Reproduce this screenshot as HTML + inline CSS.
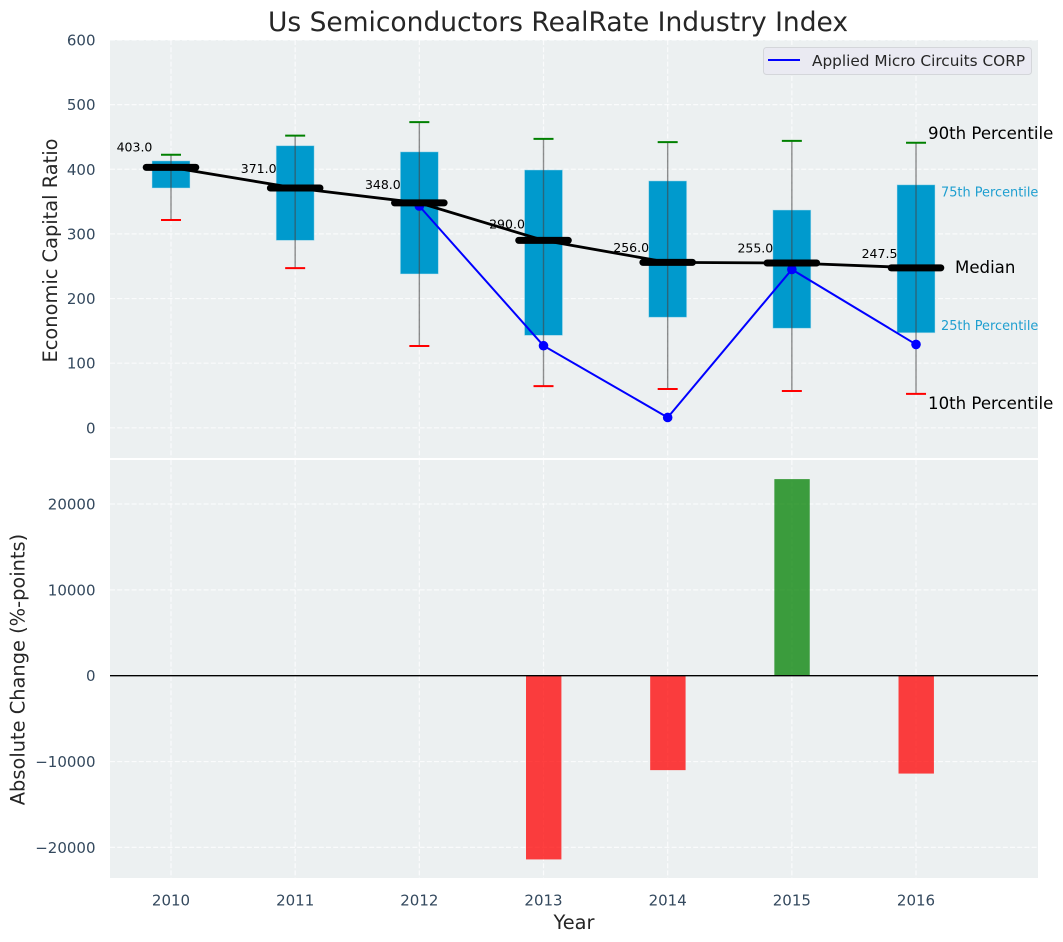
<!DOCTYPE html>
<html lang="en">
<head>
<meta charset="utf-8">
<title>Us Semiconductors RealRate Industry Index</title>
<style>
html,body{margin:0;padding:0;background:#fff;}
body{width:1063px;height:942px;overflow:hidden;}
svg{display:block;font-family:"DejaVu Sans","Liberation Sans",sans-serif;}
</style>
</head>
<body>
<svg id="chart" width="1063" height="942" viewBox="0 0 1063 942" xmlns="http://www.w3.org/2000/svg"></svg>
<script>
const years = [2010, 2011, 2012, 2013, 2014, 2015, 2016];
const p90 = [422.5, 452, 473, 447, 442, 444, 441];
const p75 = [413, 436.5, 427, 399, 382, 337, 376];
const medians = [403, 371, 348, 290, 256, 255, 247.5];
const p25 = [371, 290, 238, 143, 171, 154, 147];
const p10 = [321.5, 247, 126.5, 64.5, 60, 57, 52.5];
const companyYears = [2012, 2013, 2014, 2015, 2016];
const companyValues = [343, 127, 16, 245, 129];
const changeYears = [2013, 2014, 2015, 2016];
const changeValues = [-21400, -11000, 22900, -11400];
const topTicks = [0, 100, 200, 300, 400, 500, 600];
const bottomTicks = [-20000, -10000, 0, 10000, 20000];
const seriesName = 'Applied Micro Circuits CORP';

const NS = 'http://www.w3.org/2000/svg';
const svg = document.getElementById('chart');
const L = 110, R = 1038, T1 = 40, B1 = 458, T2 = 460, B2 = 878;
const sx = function (v) { return 171 + (v - 2010) * 124.17; };
const sy = function (v) { return 427.8 - v * 0.6463; };
const sb = function (v) { return 675.7 - v * 0.008585; };

function make(tag, attrs, text) {
  const el = document.createElementNS(NS, tag);
  for (const k in attrs) el.setAttribute(k, attrs[k]);
  if (text !== undefined) el.textContent = text;
  svg.appendChild(el);
  return el;
}
function label(x, y, str, size, fill, anchor, extra) {
  return make('text', Object.assign({ x: x, y: y, 'font-size': size, fill: fill, 'text-anchor': anchor || 'start' }, extra || {}), str);
}
function gridLine(x1, y1, x2, y2) {
  return make('line', { x1: x1, y1: y1, x2: x2, y2: y2, stroke: '#fff', 'stroke-opacity': 0.75, 'stroke-width': 1.2, 'stroke-dasharray': '5 2.2' });
}
let el;

/* panels */
el = make('rect', { x: L, y: T1, width: R - L, height: B1 - T1, fill: '#ecf0f1' });


el = make('rect', { x: L, y: T2, width: R - L, height: B2 - T2, fill: '#ecf0f1' });



/* grid */
years.forEach(function (y) {
  let g = gridLine(sx(y), T1, sx(y), B1);
  
  
  g = gridLine(sx(y), T2, sx(y), B2);
  
  
  const t = label(sx(y), 905.5, String(y), 15, '#34495e', 'middle');
  
  
});
topTicks.forEach(function (v) {
  const g = gridLine(L, sy(v), R, sy(v));
  
  
  const t = label(95.5, sy(v) + 5.5, String(v), 15, '#34495e', 'end');
  
  
});
bottomTicks.forEach(function (v) {
  const g = gridLine(L, sb(v), R, sb(v));
  
  
  const t = label(95.5, sb(v) + 5.5, String(v).replace('-', '\u2212'), 15, '#34495e', 'end');
  
  
});

/* boxes */
years.forEach(function (y, i) {
  const box = make('rect', { x: sx(y) - 19, y: sy(p75[i]), width: 38, height: sy(p25[i]) - sy(p75[i]), fill: '#009acd', stroke: '#bfe3ef', 'stroke-opacity': 0.6, 'stroke-width': 0.8 });
  
  
});

/* whiskers and caps */
years.forEach(function (y, i) {
  const w = make('line', { x1: sx(y), y1: sy(p90[i]), x2: sx(y), y2: sy(p10[i]), stroke: '#444', 'stroke-opacity': 0.6, 'stroke-width': 1.4 });
  
  
  const hi = make('line', { x1: sx(y) - 10, y1: sy(p90[i]), x2: sx(y) + 10, y2: sy(p90[i]), stroke: '#008000', 'stroke-width': 2 });
  
  
  const lo = make('line', { x1: sx(y) - 10, y1: sy(p10[i]), x2: sx(y) + 10, y2: sy(p10[i]), stroke: '#ff0000', 'stroke-width': 2 });
  
  
});

/* company series */
el = make('polyline', { points: companyYears.map(function (y, i) { return sx(y) + ',' + sy(companyValues[i]); }).join(' '), fill: 'none', stroke: '#0000ff', 'stroke-width': 2 });


companyYears.forEach(function (y, i) {
  const p = make('circle', { cx: sx(y), cy: sy(companyValues[i]), r: 4.8, fill: '#0000ff' });
  
  
});

/* median line */
el = make('polyline', { points: years.map(function (y, i) { return sx(y) + ',' + sy(medians[i]); }).join(' '), fill: 'none', stroke: '#000', 'stroke-width': 2.8 });


years.forEach(function (y, i) {
  const m = make('line', { x1: sx(y) - 24.8, y1: sy(medians[i]), x2: sx(y) + 24.8, y2: sy(medians[i]), stroke: '#000', 'stroke-width': 7, 'stroke-linecap': 'round' });
  
  
  const t = label(sx(y) - 18.6, sy(medians[i] * 1.06) - 0.4, medians[i].toFixed(1), 12.5, '#000', 'end');
  
  
});

/* change bars */
changeYears.forEach(function (y, i) {
  const v = changeValues[i];
  const top = Math.min(sb(0), sb(v));
  const b = make('rect', { x: sx(y) - 17.5, y: top, width: 35.4, height: Math.abs(sb(v) - sb(0)), fill: v >= 0 ? '#008000' : '#ff0000', 'fill-opacity': 0.75 });
  
  
});
el = make('line', { x1: L, y1: sb(0), x2: R, y2: sb(0), stroke: '#000', 'stroke-width': 1.4 });



/* percentile annotations, anchored to the last year */
const last = years.length - 1;
const lx = sx(years[last]);
el = label(lx + 12, sy(p90[last]) - 4, '90th Percentile', 16.6, '#000');


el = label(lx + 25, sy(p75[last]) + 11.5, '75th Percentile', 12.9, '#1f9fd0');


el = label(lx + 39, sy(medians[last]) + 5, 'Median', 16.6, '#000');


el = label(lx + 25, sy(p25[last]) - 3, '25th Percentile', 12.9, '#1f9fd0');


el = label(lx + 12, sy(p10[last]) + 15, '10th Percentile', 16.6, '#000');



/* legend */
el = make('rect', { x: 763.5, y: 47.5, width: 268, height: 27, rx: 3, fill: '#eaeaf2', stroke: '#d4d6da', 'stroke-width': 1 });


el = make('line', { x1: 768, y1: 60, x2: 800, y2: 60, stroke: '#0000ff', 'stroke-width': 2 });


el = label(812, 66, seriesName, 15.3, '#262626');



/* titles */
el = label(558, 31, 'Us Semiconductors RealRate Industry Index', 26.5, '#262626', 'middle');


el = label(574, 929, 'Year', 19.4, '#262626', 'middle');


el = label(0, 0, 'Economic Capital Ratio', 19.4, '#262626', 'middle', { transform: 'translate(57 250.5) rotate(-90)' });


el = label(0, 0, 'Absolute Change (%-points)', 19.4, '#262626', 'middle', { transform: 'translate(24.5 669.5) rotate(-90)' });


</script>
</body>
</html>
